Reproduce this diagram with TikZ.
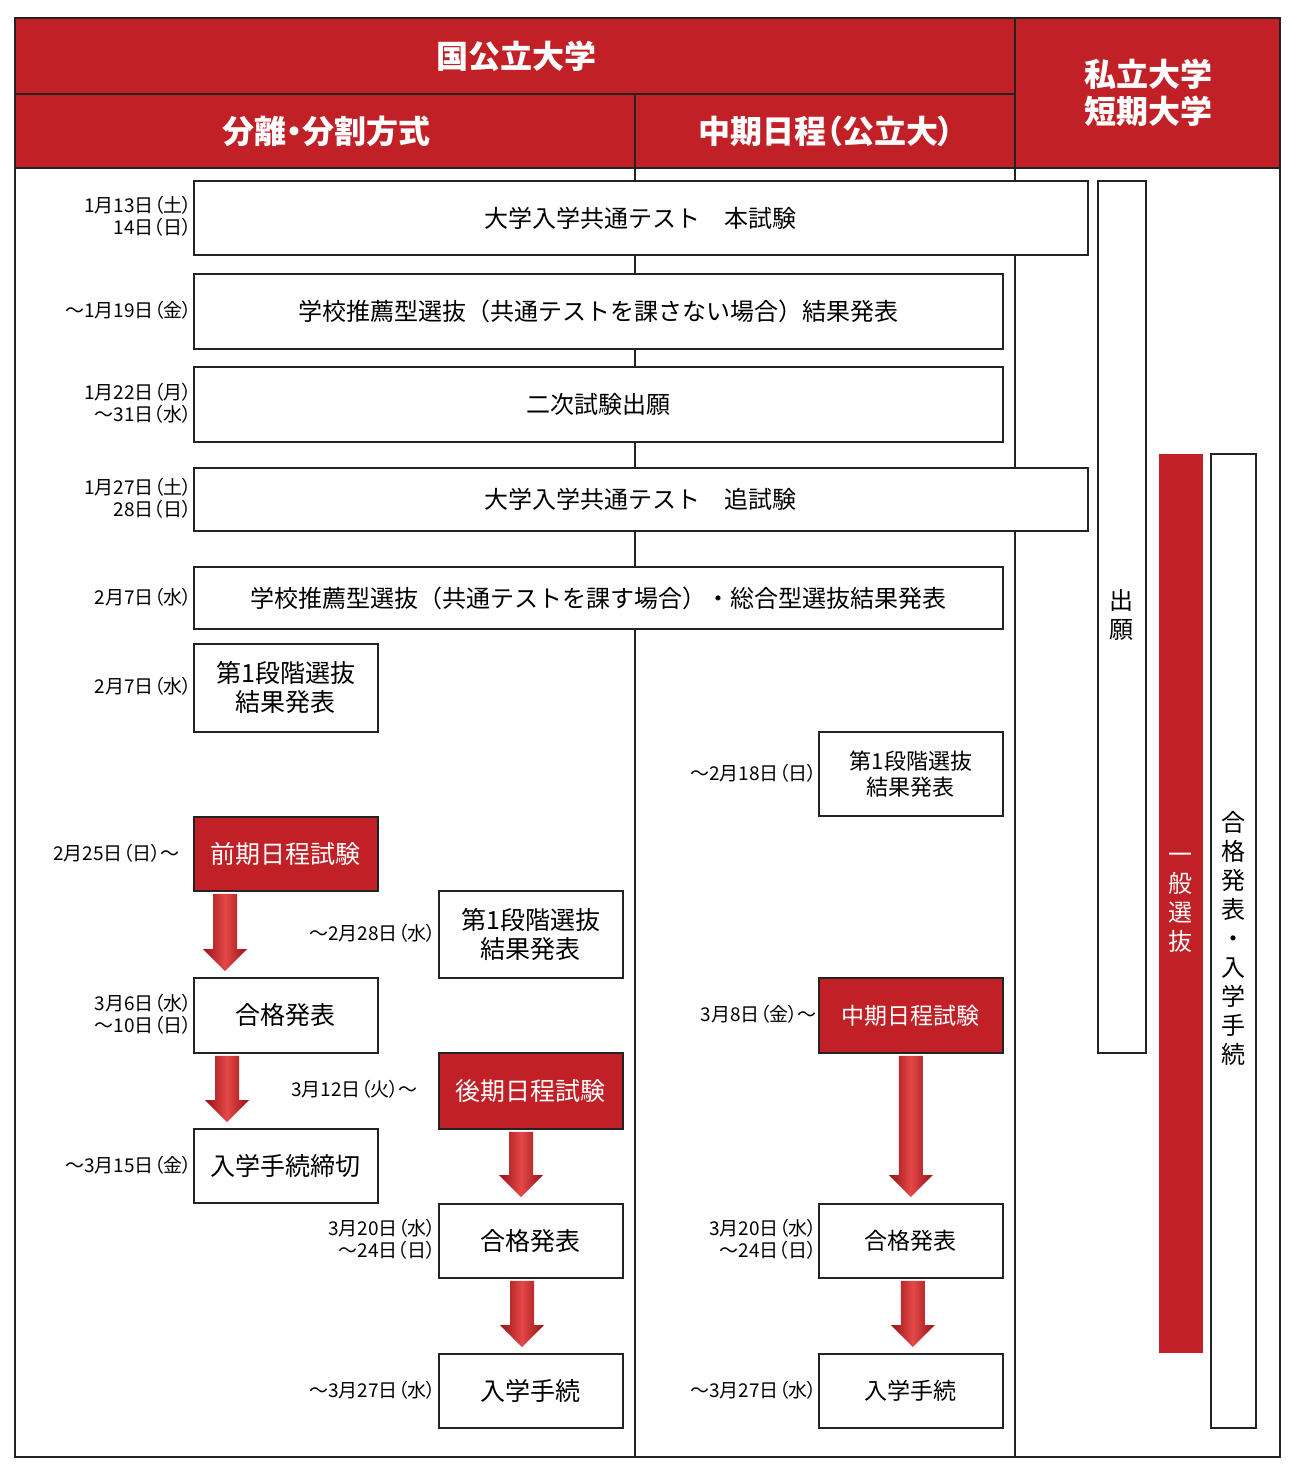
\documentclass[tikz,border=0pt]{standalone}
\usepackage{fontspec}
\setmainfont{Noto Sans CJK JP}
\newfontfamily\paltfont[RawFeature=+palt]{Noto Sans CJK JP}
\usetikzlibrary{calc}

\definecolor{kokured}{RGB}{192,32,38}
\definecolor{lineblk}{RGB}{35,35,35}
\definecolor{arrowdark}{RGB}{150,18,22}
\definecolor{arrowlight}{RGB}{228,72,72}

\tikzset{
	box/.style={draw=lineblk, line width=1.8pt, fill=white, anchor=north west,
		inner sep=0pt, align=center, font=\fontsize{24}{28}\selectfont},
	redbox/.style={box, fill=kokured, text=white},
	datelbl/.style={anchor=east, align=right, inner sep=0pt, xshift=4pt,
		font=\paltfont\fontsize{19}{22}\selectfont},
	hdtext/.style={text=white, inner sep=0pt, align=center,
		font=\paltfont\bfseries\fontsize{32}{37}\selectfont},
	vtext/.style={align=center, inner sep=0pt, font=\fontsize{24}{29}\selectfont}
}

% block arrow from #1 down to #2
\newcommand{\blockarrow}[2]{%
	\path[left color=arrowdark, right color=arrowdark, middle color=arrowlight]
		let \p1=(#1), \p2=(#2) in
		(\x1-12pt,\y1-2pt) -- (\x1+12pt,\y1-2pt) -- (\x1+12pt,\y2+28pt)
		-- (\x1+22pt,\y2+28pt) -- (\x1,\y2+6pt) -- (\x1-22pt,\y2+28pt)
		-- (\x1-12pt,\y2+28pt) -- cycle;}

\begin{document}
\begin{tikzpicture}[x=1pt, y=-1pt]

	\useasboundingbox (0,0) rectangle (1290,1472);

	% header and frame
	\fill[kokured] (15,18) rectangle (1280,168);
	\draw[lineblk, line width=1.8pt] (15,94) -- (1015,94);
	\draw[lineblk, line width=1.8pt] (635,94) -- (635,1457);
	\draw[lineblk, line width=1.8pt] (1015,18) -- (1015,1457);
	\draw[lineblk, line width=2.2pt] (15,168) -- (1280,168);
	\draw[lineblk, line width=1.8pt] (15,18) rectangle (1280,1457);

	\node[hdtext] (kokko) at (516,56) {国公立大学};
	\node[hdtext] (bunri) at (326,131) {分離・分割方式};
	\node[hdtext] (chukihd) at (826,131) {中期日程（公立大）};
	\node[hdtext] (shiritsu) at (1148,93) {私立大学\\短期大学};

	% boxes
	\node[box, minimum width=894pt, minimum height=74pt] (honshiken) at (193,180)
		{大学入学共通テスト　本試験};
	\node[box, minimum width=809pt, minimum height=75pt] (suisen1) at (193,273)
		{学校推薦型選抜（共通テストを課さない場合）結果発表};
	\node[box, minimum width=809pt, minimum height=75pt] (shutsugan2) at (193,366)
		{二次試験出願};
	\node[box, minimum width=894pt, minimum height=63pt] (tsuishiken) at (193,467)
		{大学入学共通テスト　追試験};
	\node[box, minimum width=809pt, minimum height=62pt] (suisen2) at (193,566)
		{学校推薦型選抜（共通テストを課す場合）・総合型選抜結果発表};
	\node[box, minimum width=184pt, minimum height=88pt,
		font=\fontsize{25}{29}\selectfont] (dan1a) at (193,643) {第1段階選抜\\結果発表};
	\node[box, minimum width=184pt, minimum height=84pt,
		font=\fontsize{22}{26}\selectfont] (dan1c) at (818,731) {第1段階選抜\\結果発表};
	\node[redbox, minimum width=184pt, minimum height=74pt,
		font=\fontsize{25}{29}\selectfont] (zenki) at (193,816) {前期日程試験};
	\node[box, minimum width=184pt, minimum height=87pt,
		font=\fontsize{25}{29}\selectfont] (dan1b) at (438,890) {第1段階選抜\\結果発表};
	\node[box, minimum width=184pt, minimum height=75pt,
		font=\fontsize{25}{29}\selectfont] (gokaku1) at (193,977) {合格発表};
	\node[redbox, minimum width=184pt, minimum height=75pt,
		font=\fontsize{23}{27}\selectfont] (chuki) at (818,977) {中期日程試験};
	\node[redbox, minimum width=184pt, minimum height=76pt,
		font=\fontsize{25}{29}\selectfont] (koki) at (438,1052) {後期日程試験};
	\node[box, minimum width=184pt, minimum height=74pt,
		font=\fontsize{25}{29}\selectfont] (tetsuzuki1) at (193,1128) {入学手続締切};
	\node[box, minimum width=184pt, minimum height=74pt,
		font=\fontsize{25}{29}\selectfont] (gokaku2) at (438,1203) {合格発表};
	\node[box, minimum width=184pt, minimum height=74pt,
		font=\fontsize{23}{27}\selectfont] (gokaku3) at (818,1203) {合格発表};
	\node[box, minimum width=184pt, minimum height=74pt,
		font=\fontsize{25}{29}\selectfont] (tetsuzuki2) at (438,1353) {入学手続};
	\node[box, minimum width=184pt, minimum height=74pt,
		font=\fontsize{23}{27}\selectfont] (tetsuzuki3) at (818,1353) {入学手続};

	% right column
	\node[box, minimum width=48pt, minimum height=872pt] (shutsugan) at (1097,180) {};
	\node[vtext] (shutsuganlbl) at (shutsugan.center |- 0,615) {出\\願};
	\node[box, draw=none, fill=kokured, minimum width=44pt, minimum height=899pt]
		(ippan) at (1158,453) {};
	\node[vtext, text=white] (ippanlbl) at (ippan.center |- 0,903) {一\\般\\選\\抜};
	\node[box, minimum width=45pt, minimum height=974pt] (gokakutetsu) at (1210,453) {};
	\node[vtext] (gokakutetsulbl) at (gokakutetsu.center |- 0,938)
		{合\\格\\発\\表\\・\\入\\学\\手\\続};

	% dates
	\node[datelbl] (d1) at (188,216) {1月13日（土）\\14日（日）};
	\node[datelbl] (d2) at (188,310) {～1月19日（金）};
	\node[datelbl] (d3) at (188,403) {1月22日（月）\\～31日（水）};
	\node[datelbl] (d4) at (188,498) {1月27日（土）\\28日（日）};
	\node[datelbl] (d5) at (188,597) {2月7日（水）};
	\node[datelbl] (d6) at (188,686) {2月7日（水）};
	\node[datelbl] (d7) at (813,773) {～2月18日（日）};
	\node[datelbl] (d8) at (176,853) {2月25日（日）～};
	\node[datelbl] (d9) at (432,933) {～2月28日（水）};
	\node[datelbl] (d10) at (188,1014) {3月6日（水）\\～10日（日）};
	\node[datelbl] (d11) at (813,1014) {3月8日（金）～};
	\node[datelbl] (d12) at (414,1089) {3月12日（火）～};
	\node[datelbl] (d13) at (188,1165) {～3月15日（金）};
	\node[datelbl] (d14) at (432,1239) {3月20日（水）\\～24日（日）};
	\node[datelbl] (d15) at (813,1239) {3月20日（水）\\～24日（日）};
	\node[datelbl] (d16) at (432,1390) {～3月27日（水）};
	\node[datelbl] (d17) at (813,1390) {～3月27日（水）};

	% arrows
	\coordinate (a1s) at ($(zenki.south west)+(32,0)$);
	\coordinate (a1e) at (a1s |- gokaku1.north);
	\coordinate (a2s) at ($(gokaku1.south west)+(34,0)$);
	\coordinate (a2e) at (a2s |- tetsuzuki1.north);
	\coordinate (a3s) at ($(koki.south west)+(83,0)$);
	\coordinate (a3e) at (a3s |- gokaku2.north);
	\coordinate (a4s) at ($(gokaku2.south west)+(84,0)$);
	\coordinate (a4e) at (a4s |- tetsuzuki2.north);
	\coordinate (a5s) at (chuki.south);
	\coordinate (a5e) at (a5s |- gokaku3.north);
	\coordinate (a6s) at ($(gokaku3.south)+(2,0)$);
	\coordinate (a6e) at (a6s |- tetsuzuki3.north);

	\foreach \i in {1,...,6}
	{
		\blockarrow{a\i s}{a\i e}
	};

\end{tikzpicture}
\end{document}
